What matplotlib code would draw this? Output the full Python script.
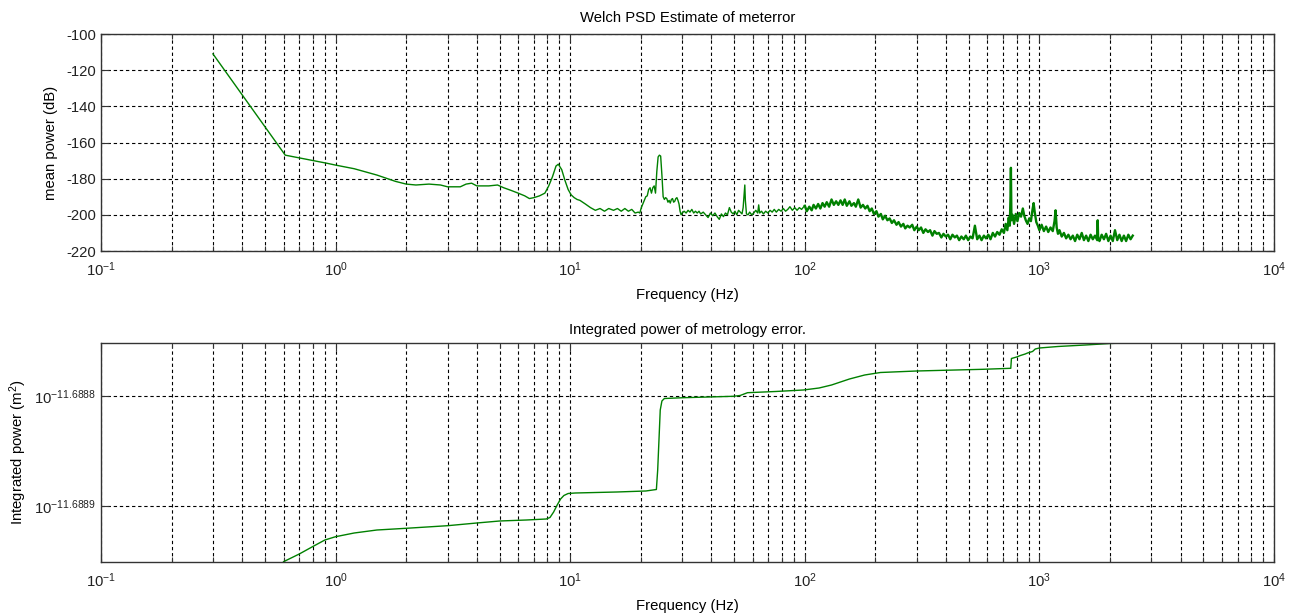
import numpy as np
import matplotlib
matplotlib.use("Agg")
import matplotlib.pyplot as plt
from matplotlib.ticker import FixedLocator, FixedFormatter, NullLocator, LogLocator

# ---------------- data: Welch PSD (dB) ----------------
freq_low = [0.3, 0.61, 0.7, 0.8, 0.92, 1.0, 1.2, 1.5, 1.8, 2.0,
            2.2, 2.5, 2.8, 3.0, 3.4, 3.6, 3.8, 4.0, 4.5, 4.9,
            5.2, 5.6, 6.0, 6.4, 6.7, 7.0, 7.4, 7.8, 8.1, 8.4,
            8.7, 8.9, 9.2, 9.5, 9.8, 10.1, 10.4, 10.7, 11.0, 11.6,
            12.2, 12.8, 13.4, 14.0, 14.6, 15.3, 15.9, 16.5, 17.1, 17.7,
            18.3, 18.9, 19.5]
db_low = [-111, -167, -168.5, -170, -171.5, -172.5, -174.5, -178, -181.5, -183,
          -183.5, -183, -183.5, -184.5, -184.5, -183, -182.5, -184, -184, -183.5,
          -185, -186.5, -188, -189.5, -191, -190.5, -189.5, -188, -184, -179,
          -173, -172, -175, -181, -186, -189, -190.5, -191.5, -192, -194,
          -196, -197.5, -196.5, -198, -196.5, -197.5, -196.5, -198, -196.5, -198,
          -197, -199, -198.5]

freq_mid = [19.8, 20.1, 20.4, 20.7, 21.0, 21.3, 21.6, 21.9, 22.2, 22.5,
            22.8, 23.1, 23.4, 23.7, 24.0, 24.3, 24.6, 24.9, 25.2, 25.5,
            25.8, 26.1, 26.4, 26.7, 27.0, 27.3, 27.6, 27.9, 28.2, 28.5,
            28.8, 29.1, 29.4, 29.7, 30.0, 30.6, 31.2, 31.8, 32.4, 33.0,
            33.6, 34.2, 34.8, 35.4, 36.0, 36.9, 37.8, 38.7, 39.6, 40.5,
            41.4, 42.3, 43.2, 44.1, 45.0, 45.9, 46.8, 47.7, 48.6, 49.5,
            50.4, 51.3, 52.2, 53.1, 54.0, 54.6, 55.2, 55.5, 55.8, 56.4,
            57.3, 58.2, 59.4, 60.6, 61.8, 63.0, 63.6, 64.2, 65.4, 66.6,
            68.1, 69.6, 71.1, 72.6, 74.1, 75.6, 77.4, 79.2, 81.0, 82.8,
            84.6, 86.4, 88.5, 90.6, 92.7, 94.8, 96.9, 99.0]
db_mid = [-199, -196, -194, -192, -190, -189.5, -186, -185, -188, -185,
          -184, -188, -176, -168, -167, -167.5, -178, -190, -191.5, -190.5,
          -191, -193, -192, -193.5, -191.5, -191, -193, -192.5, -191, -190.5,
          -192, -194, -198, -200, -199, -198, -199, -197.5, -198.5, -197,
          -199, -198, -199, -198, -199.5, -198.5, -200, -201.5, -199, -200.5,
          -199, -201, -202.5, -199.5, -201, -199, -200, -196, -198.5, -199.5,
          -198, -200, -197.5, -198.5, -199.5, -196, -188, -183.5, -192, -199.5,
          -200, -198.5, -200, -199, -197.5, -199, -194.5, -199, -198, -199.5,
          -198, -199, -197.5, -198.5, -197, -198.5, -197, -198, -196.5, -198,
          -197, -195.5, -197.5, -196, -197.5, -196, -197, -195.5]

freq_high = [100, 102, 104.5, 107, 109, 111.5, 114, 116.5, 119, 121.5,
             124, 127, 130, 133, 136, 139, 142, 145, 148, 151,
             155, 158, 162, 165, 169, 173, 177, 181, 185, 189,
             193, 197, 202, 206, 211, 215, 220, 225, 230, 235,
             240, 246, 251, 257, 263, 268, 274, 280, 287, 293,
             300, 306, 313, 320, 327, 335, 342, 350, 357, 365,
             373, 382, 390, 399, 408, 417, 426, 436, 445, 455,
             465, 476, 486, 497, 508, 519, 531, 543, 555, 567,
             580, 592, 606, 619, 633, 647, 661, 676, 691, 706,
             718, 730, 740, 748, 753, 756, 760, 768, 780, 793,
             806, 820, 835, 850, 862, 875, 890, 905, 920, 935,
             945, 955, 970, 985, 1000, 1022, 1045, 1068, 1091, 1115,
             1140, 1160, 1172, 1185, 1200, 1218, 1245, 1272, 1300, 1329,
             1358, 1388, 1419, 1450, 1482, 1515, 1548, 1582, 1617, 1653,
             1689, 1726, 1764, 1772, 1780, 1803, 1843, 1884, 1925, 1968,
             2011, 2055, 2100, 2147, 2194, 2242, 2292, 2342, 2394, 2447,
             2500]
db_high = [-195, -198, -195.5, -197.5, -194.5, -196.5, -194, -196.5, -193.5, -195.5,
           -193, -195.5, -191.5, -194.5, -192.5, -194.5, -192, -194.5, -191.5, -195,
           -192.5, -195, -193.5, -195.5, -191.5, -196, -194.5, -196.5, -195, -198,
           -196.5, -199.5, -198, -201, -199.5, -202.5, -200.5, -203, -202, -204.5,
           -203, -205.5, -204, -206.5, -205, -207.5, -206, -207, -205.5, -208.5,
           -206.5, -208.5, -207, -210, -208, -209.5, -208.5, -211.5, -209, -210.5,
           -210, -212.5, -210.5, -212, -211, -213.5, -211, -212.5, -211.5, -214,
           -212, -213.5, -211.5, -214, -212, -213, -206, -213.5, -211.5, -214,
           -211.5, -213, -211, -213.5, -210, -212, -209.5, -211, -208, -210,
           -205, -208.5, -201.5, -206, -190, -174, -203, -200, -205, -199.5,
           -203.5, -199, -201, -196.5, -200.5, -203, -205, -202, -203.5, -197,
           -193.5, -198.5, -204, -206, -208.5, -205.5, -209, -206.5, -209.5, -207,
           -209, -203.5, -197.5, -207, -210.5, -208.5, -212, -210, -213, -211,
           -213.5, -211.5, -214.5, -211, -213.5, -210, -214, -211.5, -214.5, -211,
           -213.5, -211.5, -214, -203, -213, -214.5, -211, -213.5, -210.5, -214.5,
           -211.5, -214.5, -208.5, -214, -211, -214.5, -211.5, -214.5, -211, -213.5,
           -211.5]

# ---------------- data: integrated power (log10 exponent) ----------------
int_freq = [0.6, 0.7, 0.8, 0.9, 1.0, 1.2, 1.5, 2.0, 3.0, 4.0,
            5.0, 6.5, 7.9, 8.2, 8.5, 8.8, 9.1, 9.4, 9.8, 10.5,
            15.8, 21, 23.3, 23.6, 23.9, 24.2, 24.6, 25.2, 30.4, 49.6,
            53, 57, 75, 98.6, 115, 130, 155, 180, 210, 300,
            575, 755, 760, 800, 830, 870, 890, 935, 960, 1000,
            1200, 1570, 2000, 2450]
int_log10 = [-11.68895064, -11.68894364, -11.68893682, -11.68893091, -11.68892791,
             -11.68892455, -11.68892182, -11.68892027, -11.68891791, -11.68891545,
             -11.68891364, -11.68891273, -11.68891182, -11.68891045, -11.68890545,
             -11.68889909, -11.68889364, -11.68889045, -11.68888864, -11.68888818,
             -11.68888727, -11.68888636, -11.68888500, -11.68886727, -11.68884000,
             -11.68881273, -11.68880455, -11.68880227, -11.68880155, -11.68880027,
             -11.68879955, -11.68879700, -11.68879591, -11.68879455, -11.68879273,
             -11.68879000, -11.68878455, -11.68878091, -11.68877864, -11.68877727,
             -11.68877573, -11.68877482, -11.68876591, -11.68876455, -11.68876318,
             -11.68876182, -11.68876091, -11.68875955, -11.68875727, -11.68875636,
             -11.68875500, -11.68875364, -11.68875227, -11.68875155]

int_yticks_exp = [-11.6889, -11.6888]
int_ylim_exp = [-11.68895091, -11.68875155]

assert len(freq_low) == len(db_low)
assert len(freq_mid) == len(db_mid)
assert len(freq_high) == len(db_high)
assert len(int_freq) == len(int_log10)

# ---------------- style ----------------
plt.rcParams['font.family'] = ['Liberation Sans', 'DejaVu Sans']
plt.rcParams['mathtext.fontset'] = 'custom'
plt.rcParams['mathtext.rm'] = 'Liberation Sans'
plt.rcParams['mathtext.it'] = 'Liberation Sans:italic'
plt.rcParams['mathtext.bf'] = 'Liberation Sans:bold'
plt.rcParams['axes.unicode_minus'] = False

FS = 10.7
GREEN = '#008000'
FRAME = '#333333'

W, H = 1296, 613
fig = plt.figure(figsize=(W / 100, H / 100), dpi=100)

ax1 = fig.add_axes([101 / W, 1 - 251 / H, 1173 / W, 217 / H])
ax2 = fig.add_axes([101 / W, 1 - 562 / H, 1173 / W, 219.3 / H])

# low/mid part (sparser spectrum -> thin line)
lm_freq = np.array(freq_low + freq_mid + freq_high[:1])
lm_db = np.array(db_low + db_mid + db_high[:1])
ax1.plot(lm_freq, lm_db, color=GREEN, lw=1.0, solid_joinstyle='round')
# high part (dense spectrum -> thick band)
ax1.plot(np.array(freq_high), np.array(db_high), color=GREEN, lw=1.7,
         solid_joinstyle='round')
ax1.set_xscale('log')
ax1.set_xlim(0.1, 1e4)
ax1.set_ylim(-220, -100)
ax1.set_yticks(np.arange(-220, -99, 20))
ax1.set_title('Welch PSD Estimate of meterror', fontsize=FS, pad=9)
ax1.set_xlabel('Frequency (Hz)', fontsize=FS, labelpad=6)
ax1.set_ylabel('mean power (dB)', fontsize=FS, labelpad=6)

ax2.plot(int_freq, 10.0 ** np.array(int_log10), color=GREEN, lw=1.0)
ax2.set_xscale('log')
ax2.set_yscale('log')
ax2.set_xlim(0.1, 1e4)
ax2.set_ylim(10.0 ** int_ylim_exp[0], 10.0 ** int_ylim_exp[1])
ax2.yaxis.set_major_locator(FixedLocator([10.0 ** e for e in int_yticks_exp]))
ax2.yaxis.set_major_formatter(FixedFormatter([r'$10^{%s}$' % ('%.4f' % e) for e in int_yticks_exp]))
ax2.yaxis.set_minor_locator(NullLocator())
ax2.set_title('Integrated power of metrology error.', fontsize=FS, pad=6)
ax2.set_xlabel('Frequency (Hz)', fontsize=FS, labelpad=6)
ax2.set_ylabel(r'Integrated power (m$^2$)', fontsize=FS, labelpad=4)

for ax in (ax1, ax2):
    ax.xaxis.set_major_locator(LogLocator(base=10, numticks=20))
    ax.xaxis.set_minor_locator(LogLocator(base=10, subs=np.arange(2, 10), numticks=20))
    ax.grid(True, which='major', color='k', linestyle=(0, (3, 2.5)), lw=0.8)
    ax.grid(True, which='minor', axis='x', color='k', linestyle=(0, (3, 2.5)), lw=0.8)
    ax.tick_params(which='both', direction='in', top=True, right=True,
                   labelsize=FS, colors=FRAME, labelcolor='#222222')
    ax.tick_params(axis='x', which='major', pad=7)
    ax.tick_params(which='major', length=6, width=0.8)
    ax.tick_params(which='minor', length=3.5, width=0.8)
    for s in ax.spines.values():
        s.set_color(FRAME)
        s.set_linewidth(1.0)
    ax.set_axisbelow(True)

fig.savefig('out.png', dpi=100)
